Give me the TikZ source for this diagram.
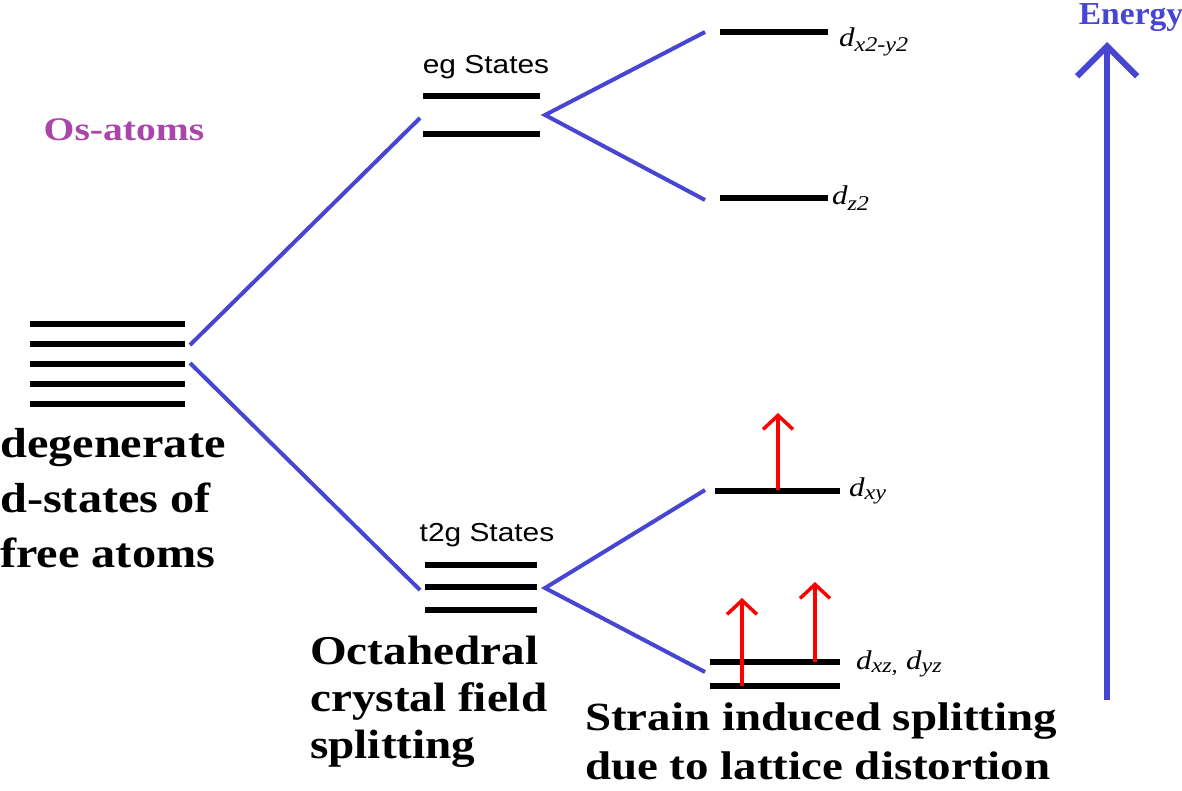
\documentclass[tikz,border=0pt]{standalone}
\usepackage{fontspec}
\setmainfont{Liberation Serif}
\setsansfont{Liberation Sans}
\usetikzlibrary{arrows.meta}
\definecolor{bl}{RGB}{70,70,210}
\definecolor{pu}{RGB}{170,70,170}
\newcommand\mysubsz{\fontsize{21}{24}\selectfont}
\tikzset{lvl/.style={line width=6pt,black},con/.style={line width=4pt,bl},
 up/.style={line width=3.5pt,red,-{Straight Barb[length=14pt,width=30pt,line width=3.5pt]}},
 big/.style={align=left,anchor=north west,inner sep=0pt,xscale=1.15},
 dl/.style={font=\itshape\fontsize{27}{30}\selectfont,anchor=west,xscale=1.15},
 st/.style={font=\sffamily\fontsize{26}{30}\selectfont,xscale=1.15}}
\begin{document}
\begin{tikzpicture}[x=1pt,y=-1pt]
\useasboundingbox (0,0) rectangle (1182,790);
\foreach \y in {324,344,364,384,404} \draw[lvl] (30,\y)--(185,\y);
\coordinate (f1) at (190,345); \coordinate (f2) at (190,363);
\coordinate (e) at (420,118); \coordinate (t) at (420,590);
\draw[con] (f1)--(e); \draw[con] (f2)--(t);
\draw[lvl] (423,96)--(540,96); \draw[lvl] (423,134)--(540,134);
\node[st] at (486,67) {eg States};
\coordinate (es) at (545,115);
\coordinate (a1) at (705,32); \coordinate (a2) at (705,200);
\draw[con] (a1)--(es)--(a2);
\draw[lvl] (720,32)--(828,32); \node[dl] at (835,42) {d\textsubscript{\mysubsz x2-y2}};
\draw[lvl] (720,198)--(828,198); \node[dl] at (828,198) {d\textsubscript{\mysubsz z2}};
\foreach \y in {565,587,610} \draw[lvl] (425,\y)--(537,\y);
\node[st] at (487,535) {t2g States};
\coordinate (ts) at (545,588);
\coordinate (b1) at (705,490); \coordinate (b2) at (705,672);
\draw[con] (b1)--(ts)--(b2);
\draw[lvl] (715,491)--(840,491); \node[dl] at (845,491) {d\textsubscript{\mysubsz xy}};
\draw[lvl] (710,662)--(840,662); \draw[lvl] (710,686)--(840,686);
\node[dl] at (852,664) {d\textsubscript{\mysubsz xz,} d\textsubscript{\mysubsz yz}};
\draw[up] (778,490)--(778,413);
\draw[up] (742,686)--(742,598);
\draw[up] (815,662)--(815,582);
\draw[line width=6pt,bl,-{Straight Barb[length=30pt,width=60pt,line width=6pt]}] (1107,700)--(1107,42);
\node[font=\bfseries\fontsize{32}{36}\selectfont,text=bl,xscale=1.05] at (1131,18) {Energy};
\node[font=\bfseries\fontsize{33}{36}\selectfont,text=pu,xscale=1.2] at (124,130) {Os-atoms};
\node[big,font=\bfseries\fontsize{42}{55}\selectfont] at (0,428) {degenerate\\d-states of\\free atoms};
\node[big,font=\bfseries\fontsize{41}{47}\selectfont] at (310,636) {Octahedral\\crystal field\\splitting};
\node[big,xscale=1.02,font=\bfseries\fontsize{40}{49}\selectfont] at (585,703) {Strain induced splitting\\due to lattice distortion};
\end{tikzpicture}
\end{document}
